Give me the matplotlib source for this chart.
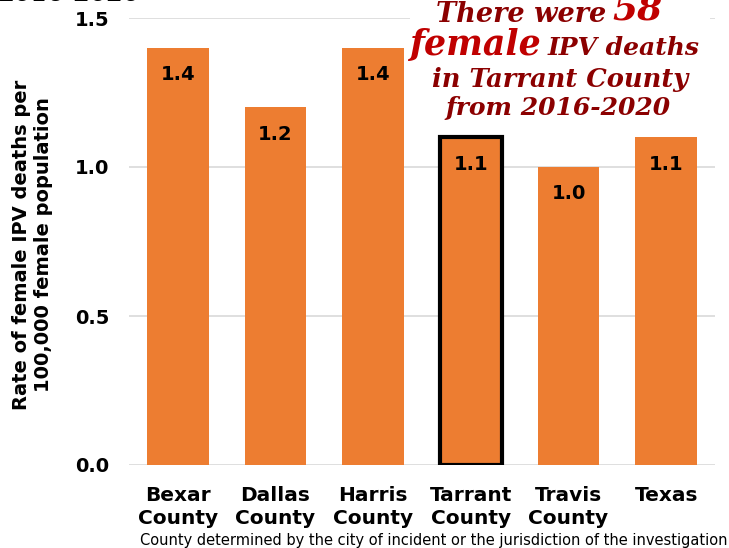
import matplotlib.pyplot as plt
import numpy as np

# data
counties = ['Bexar\nCounty', 'Dallas\nCounty', 'Harris\nCounty', 'Tarrant\nCounty', 'Travis\nCounty', 'Texas']
rates = [1.4, 1.2, 1.4, 1.1, 1.0, 1.1]
yticks = [0.0, 0.5, 1.0, 1.5]

orange = '#ED7D31'
dark_red = '#8B0000'
red = '#C00000'

W, H = 729, 548
fig = plt.figure(figsize=(W/100, H/100), dpi=100)

def fx(px):
    return px / W

def fy(py):
    return 1 - py / H

ax = fig.add_axes([fx(129), fy(465), fx(715) - fx(129), fy(18) - fy(465)])

x = np.arange(len(counties))
bars = ax.bar(x, rates, width=0.63, color=orange, zorder=2)
# highlight Tarrant
bars[3].set_edgecolor('black')
bars[3].set_linewidth(3)

for xi, r in zip(x, rates):
    ax.text(xi, r - 0.09, '%.1f' % r, ha='center', va='center',
            fontsize=14, fontweight='bold', color='black', zorder=3)

ax.set_ylim(0, 1.5)
ax.set_xlim(-0.5, len(counties) - 0.5)
ax.set_yticks(yticks)
ax.set_yticklabels(['%.1f' % v for v in yticks], fontsize=14, fontweight='bold')
ax.set_xticks(x)
ax.set_xticklabels(counties, fontsize=14.5, fontweight='bold', linespacing=1.25)
ax.tick_params(axis='y', length=0, pad=14)
ax.tick_params(axis='x', length=0, pad=15)
ax.grid(True, axis='y', color='#D9D9D9', linewidth=1.2, zorder=0)
for s in ax.spines.values():
    s.set_visible(False)

fig.text(fx(33), fy(245), 'Rate of female IPV deaths per\n100,000 female population',
         rotation=90, ha='center', va='center', fontsize=14, fontweight='bold',
         linespacing=1.2)

# cut-off title at top-left
fig.text(fx(70), fy(-6), '2016-2020', ha='center', va='center', fontsize=17,
         family='DejaVu Serif', style='italic', fontweight='bold')

# annotation box
fig.patches.append(plt.Rectangle((fx(410), fy(125)), fx(300), fy(0) - fy(125),
                                 transform=fig.transFigure, facecolor='white',
                                 edgecolor='none', zorder=5))
tf = dict(family='DejaVu Serif', style='italic', fontweight='bold', zorder=6)
fig.text(fx(606), fy(15), 'There were', ha='right', va='center', fontsize=19.5, color=dark_red, **tf)
fig.text(fx(612), fy(10), '58', ha='left', va='center', fontsize=26, color=red, **tf)
fig.text(fx(541), fy(45), 'female', ha='right', va='center', fontsize=25, color=red, **tf)
fig.text(fx(548), fy(48), 'IPV deaths', ha='left', va='center', fontsize=18, color=dark_red, **tf)
fig.text(fx(560), fy(80), 'in Tarrant County', ha='center', va='center', fontsize=18.5, color=dark_red, **tf)
fig.text(fx(558), fy(108), 'from 2016-2020', ha='center', va='center', fontsize=18, color=dark_red, **tf)

fig.text(fx(727), fy(541), 'County determined by the city of incident or the jurisdiction of the investigation',
         ha='right', va='center', fontsize=10.5)

fig.savefig('out.png', dpi=100)
